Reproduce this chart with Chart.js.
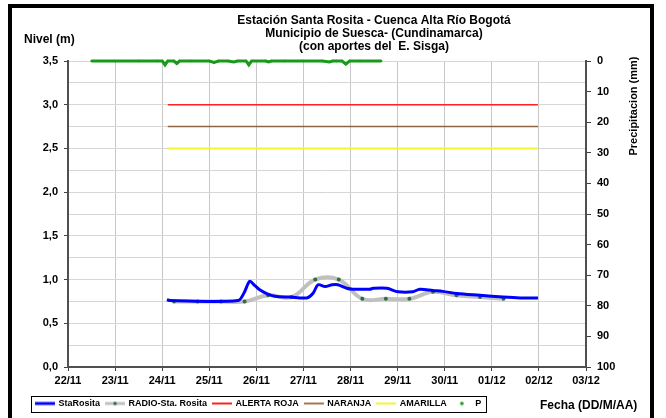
<!DOCTYPE html>
<html>
<head>
<meta charset="utf-8">
<script src="https://cdn.jsdelivr.net/npm/chart.js@4"></script>
<style>
  html, body { margin: 0; padding: 0; background: #fff; overflow: hidden; }
  #frame { position: absolute; left: 8px; top: 4px; width: 638px; height: 500px; border: 4px solid #000; }
  #chart { position: absolute; left: 0; top: 0; }
</style>
</head>
<body>
<div id="frame"></div>
<canvas id="chart" width="666" height="418"></canvas>
<script>
// dias contados desde 22/11 00:00
const DAY_LABELS = ['22/11', '23/11', '24/11', '25/11', '26/11', '27/11', '28/11', '29/11', '30/11', '01/12', '02/12', '03/12'];

// StaRosita (nivel en m)
const STA_DAY = [2.10, 2.17, 3.61, 3.74, 3.86, 3.97, 4.08, 4.22, 4.39, 4.71, 5.07, 5.20, 5.31, 5.46, 5.61, 5.73, 5.92, 6.05, 6.41, 6.48, 6.77, 7.01, 7.32, 7.47, 7.75, 7.96, 8.26, 8.75, 9.24, 9.60, 9.98];
const STA_NIVEL = [0.77, 0.76, 0.76, 0.85, 0.98, 0.93, 0.88, 0.84, 0.81, 0.80, 0.79, 0.84, 0.94, 0.92, 0.94, 0.94, 0.90, 0.89, 0.89, 0.90, 0.90, 0.86, 0.86, 0.89, 0.875, 0.865, 0.84, 0.82, 0.80, 0.79, 0.79];

// RADIO-Sta. Rosita
const RADIO_DAY = [2.25, 2.75, 3.25, 3.75, 4.25, 4.75, 5.25, 5.75, 6.25, 6.75, 7.25, 7.75, 8.25, 8.75, 9.25];
const RADIO_NIVEL = [0.75, 0.75, 0.75, 0.75, 0.82, 0.80, 1.00, 1.00, 0.78, 0.78, 0.78, 0.86, 0.82, 0.80, 0.78];

// niveles de alerta
const ALERT_DAY = [2.12, 9.98];
const ROJA = [3.0, 3.0];
const NARANJA = [2.75, 2.75];
const AMARILLA = [2.5, 2.5];

// precipitacion (mm)
const P_DAY = [0.5, 1.0, 1.5, 1.9, 2.0, 2.06, 2.12, 2.25, 2.31, 2.37, 2.6, 3.0, 3.10, 3.2, 3.4, 3.52, 3.6, 3.78, 3.84, 3.9, 4.2, 4.26, 4.32, 4.6, 5.0, 5.4, 5.55, 5.62, 5.7, 5.82, 5.9, 5.98, 6.2, 6.65];
const P_MM = [0, 0, 0, 0, 0, 1.3, 0, 0, 0.8, 0, 0, 0, 0.5, 0, 0, 0.3, 0, 0, 1.3, 0, 0, 0.3, 0, 0, 0, 0, 0.3, 0, 0, 0, 1.0, 0, 0, 0];

const FONT = 'Arial, "Liberation Sans", sans-serif';
const pts = (xs, ys) => xs.map((x, i) => ({ x, y: ys[i] }));

// iconos de la leyenda
function icon(color, width, dot, lineOff) {
  const c = document.createElement('canvas');
  c.width = 20; c.height = 6;
  const g = c.getContext('2d');
  if (!lineOff) {
    g.strokeStyle = color; g.lineWidth = width;
    g.beginPath(); g.moveTo(0, 3); g.lineTo(20, 3); g.stroke();
  }
  if (dot) {
    g.fillStyle = dot;
    g.beginPath(); g.arc(10, 3, 1.8, 0, Math.PI * 2); g.fill();
  }
  return c;
}
const ICONS = [
  icon('#0000ff', 3),
  icon('#c0c0c0', 3, '#2d6e45'),
  icon('#ff2020', 2),
  icon('#a07850', 2),
  icon('#f4f430', 2),
  icon(null, 0, '#1a9a1a', true)
];

const textPlugin = {
  id: 'texts',
  afterDraw(chart) {
    const ctx = chart.ctx;
    ctx.save();
    ctx.fillStyle = '#000';
    ctx.textBaseline = 'middle';
    ctx.font = 'bold 12px ' + FONT;
    ctx.textAlign = 'center';
    ctx.fillText('Estación Santa Rosita - Cuenca Alta Río Bogotá', 374, 21);
    ctx.fillText('Municipio de Suesca- (Cundinamarca)', 374, 34);
    ctx.fillText('(con aportes del  E. Sisga)', 374, 47);
    ctx.textAlign = 'left';
    ctx.fillText('Nivel (m)', 24, 40);
    ctx.fillText('Fecha (DD/M/AA)', 540, 406);
    ctx.font = 'bold 11px ' + FONT;
    ctx.translate(634, 106);
    ctx.rotate(-Math.PI / 2);
    ctx.textAlign = 'center';
    ctx.fillText('Precipitacion (mm)', 0, 0);
    ctx.restore();

    // marco de la leyenda
    const hb = chart.legend.legendHitBoxes;
    if (hb && hb.length) {
      const l = Math.min(...hb.map(b => b.left)) - 5;
      const r = Math.max(...hb.map(b => b.left + b.width)) + 5;
      const t = hb[0].top - 3;
      const b = hb[0].top + hb[0].height + 4;
      ctx.save();
      ctx.strokeStyle = '#000';
      ctx.lineWidth = 1;
      ctx.strokeRect(Math.round(l) + 0.5, Math.round(t) + 0.5, Math.round(r - l), Math.round(b - t));
      ctx.restore();
    }
  }
};

new Chart(document.getElementById('chart'), {
  type: 'line',
  data: {
    datasets: [
      { label: 'StaRosita', data: pts(STA_DAY, STA_NIVEL), borderColor: '#0000ff', borderWidth: 3, pointRadius: 0, tension: 0.3, order: 0, yAxisID: 'y' },
      { label: 'RADIO-Sta. Rosita', data: pts(RADIO_DAY, RADIO_NIVEL), borderColor: '#c0c0c0', borderWidth: 4, pointRadius: 2, pointBackgroundColor: '#2d6e45', pointBorderWidth: 0, tension: 0.4, order: 1, yAxisID: 'y' },
      { label: 'ALERTA ROJA', data: pts(ALERT_DAY, ROJA), borderColor: '#ff2020', borderWidth: 1.5, pointRadius: 0, order: 2, yAxisID: 'y' },
      { label: 'NARANJA', data: pts(ALERT_DAY, NARANJA), borderColor: '#8f6440', borderWidth: 1.5, pointRadius: 0, order: 2, yAxisID: 'y' },
      { label: 'AMARILLA', data: pts(ALERT_DAY, AMARILLA), borderColor: '#f4f430', borderWidth: 2, pointRadius: 0, order: 2, yAxisID: 'y' },
      { label: 'P', data: pts(P_DAY, P_MM), borderColor: '#1a9a1a', borderWidth: 3, pointRadius: 1.2, pointBackgroundColor: '#1a9a1a', pointBorderWidth: 0, order: 3, yAxisID: 'y1', clip: false }
    ]
  },
  options: {
    responsive: false,
    animation: false,
    devicePixelRatio: 1,
    layout: { padding: { left: 30, right: 14, top: 61, bottom: 0 } },
    plugins: {
      tooltip: { enabled: false },
      title: { display: false },
      legend: {
        position: 'bottom',
        align: 'start',
        labels: {
          usePointStyle: true,
          pointStyleWidth: 18,
          padding: 6,
          color: '#000',
          font: { family: FONT, size: 9, weight: 'bold' },
          generateLabels: chart => chart.data.datasets.map((ds, i) => ({
            text: ds.label, pointStyle: ICONS[i], fillStyle: 'transparent', strokeStyle: 'transparent',
            lineWidth: 0, hidden: false, datasetIndex: i, fontColor: '#000'
          }))
        }
      }
    },
    scales: {
      x: {
        type: 'linear',
        min: 0, max: 11,
        afterFit: s => { s.height = 26; },
        ticks: {
          stepSize: 1, autoSkip: false, maxRotation: 0, padding: 3, color: '#000',
          font: { family: FONT, size: 11, weight: 'bold' },
          callback: v => DAY_LABELS[v]
        },
        grid: { color: '#c8c8c8', tickLength: 4, tickColor: '#404040' },
        border: { color: '#505050', width: 2 }
      },
      y: {
        position: 'left',
        min: 0, max: 3.5,
        afterFit: s => { s.width = 38; },
        ticks: {
          stepSize: 0.25, padding: 6, color: '#000',
          font: { family: FONT, size: 11, weight: 'bold' },
          callback: v => (Math.round(v * 100) % 50 === 0 ? v.toFixed(1).replace('.', ',') : '')
        },
        grid: {
          color: '#d6d6d6', tickLength: 4,
          tickColor: c => (c.tick && Math.round(c.tick.value * 100) % 50 === 0 ? '#404040' : 'rgba(0,0,0,0)')
        },
        border: { color: '#505050', width: 2 }
      },
      y1: {
        position: 'right',
        reverse: true,
        min: 0, max: 100,
        afterFit: s => { s.width = 66; },
        ticks: {
          stepSize: 10, padding: 6, color: '#000',
          font: { family: FONT, size: 11, weight: 'bold' }
        },
        grid: { drawOnChartArea: false, tickLength: 5, tickColor: '#404040' },
        border: { color: '#505050', width: 2 }
      }
    }
  },
  plugins: [textPlugin]
});
</script>
</body>
</html>
